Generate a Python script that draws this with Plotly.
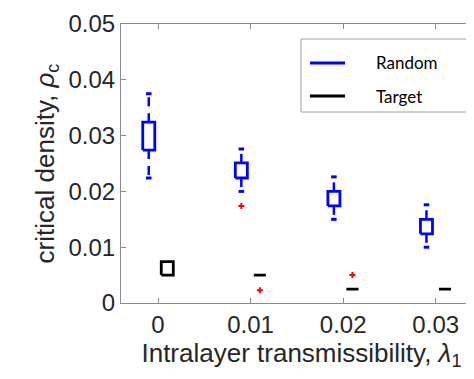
import plotly.graph_objects as go

# ---- data ----
groups = [0.0, 0.01, 0.02, 0.03]
tick_labels = ["0", "0.01", "0.02", "0.03"]

random_upper = [0.0375, 0.0276, 0.0226, 0.0176]
random_q3 = [0.0324, 0.0251, 0.0200, 0.0150]
random_q1 = [0.0274, 0.0224, 0.0174, 0.0124]
random_lower = [0.0224, 0.0200, 0.0150, 0.0100]
random_out_x = [0.01]
random_out_y = [0.0174]

target_upper = [0.0074, 0.0050, 0.0025, 0.0025]
target_q3 = [0.0074, 0.0050, 0.0025, 0.0025]
target_q1 = [0.0050, 0.0050, 0.0025, 0.0025]
target_lower = [0.0050, 0.0050, 0.0025, 0.0025]
target_out_x = [0.01, 0.02]
target_out_y = [0.0023, 0.0050]

y_ticks = [0, 0.01, 0.02, 0.03, 0.04, 0.05]
y_tick_labels = ["0", "0.01", "0.02", "0.03", "0.04", "0.05"]

# ---- style ----
BOX_W = 0.0013
CAP_W = 0.0006
OFFSET = 0.001
BLUE = "#0000FF"
BLACK = "#000000"

fig = go.Figure()


def add_group(offset, upper, q3, q1, lower, color, out_x, out_y):
    bx, by, wx, wy, cx, cy = [], [], [], [], [], []
    for g, u, a, b, l in zip(groups, upper, q3, q1, lower):
        x = g + offset
        bx += [x - BOX_W / 2, x + BOX_W / 2, x + BOX_W / 2, x - BOX_W / 2, x - BOX_W / 2, None]
        by += [b, b, a, a, b, None]
        if u > a:
            wx += [x, x, None]
            wy += [a, u, None]
            cx += [x - CAP_W / 2, x + CAP_W / 2, None]
            cy += [u, u, None]
        if l < b:
            wx += [x, x, None]
            wy += [b, l, None]
            cx += [x - CAP_W / 2, x + CAP_W / 2, None]
            cy += [l, l, None]
    fig.add_trace(go.Scatter(x=wx, y=wy, mode="lines", showlegend=False,
                             line=dict(color=color, width=2.5, dash="9px,7px"),
                             hoverinfo="skip"))
    fig.add_trace(go.Scatter(x=cx, y=cy, mode="lines", showlegend=False,
                             line=dict(color=color, width=3), hoverinfo="skip"))
    fig.add_trace(go.Scatter(x=bx, y=by, mode="lines", showlegend=False,
                             line=dict(color=color, width=2.8), hoverinfo="skip"))
    fig.add_trace(go.Scatter(x=[v + offset for v in out_x], y=out_y, mode="markers",
                             showlegend=False,
                             marker=dict(symbol="cross", size=5, color="#FF0000",
                                         line=dict(width=0)),
                             hoverinfo="skip"))


add_group(-OFFSET, random_upper, random_q3, random_q1, random_lower, BLUE,
          random_out_x, random_out_y)
add_group(OFFSET, target_upper, target_q3, target_q1, target_lower, BLACK,
          target_out_x, target_out_y)

AX = "#8c8c8c"
TXT = "#262626"
FONT = "Liberation Sans, Arial, sans-serif"

fig.update_layout(
    width=474, height=379,
    margin=dict(l=113, r=0, t=16, b=84),
    paper_bgcolor="white", plot_bgcolor="white",
    showlegend=False,
    font=dict(family=FONT, size=24, color=TXT),
    xaxis=dict(range=[-0.004, 0.035], tickvals=groups, ticktext=tick_labels,
               showgrid=False, zeroline=False, showline=True, linecolor=AX,
               linewidth=1, mirror="ticks", ticks="inside", ticklen=5, tickcolor=AX,
               tickfont=dict(size=24, color=TXT),
               title=dict(text="Intralayer transmissibility, <i>λ</i><sub>1</sub>",
                          font=dict(size=26, color=TXT), standoff=4)),
    yaxis=dict(range=[0, 0.05], tickvals=y_ticks, ticktext=y_tick_labels,
               showgrid=False, zeroline=False, showline=True, linecolor=AX,
               linewidth=1, mirror="ticks", ticks="inside", ticklen=5, tickcolor=AX,
               tickfont=dict(size=24, color=TXT),
               title=dict(text="critical density, <i>ρ</i><sub>c</sub>",
                          font=dict(size=26, color=TXT), standoff=6)),
)

# legend drawn manually (box, line samples, text)
def px_x(p):
    return (p - 113) / 361.0


def px_y(p):
    return (295 - p) / 279.0


fig.add_shape(type="rect", xref="paper", yref="paper",
              x0=px_x(293), x1=px_x(459), y0=px_y(104), y1=px_y(31),
              line=dict(color="#a0a0a0", width=1), fillcolor="white", layer="above")
for name, color, yy in [("Random", BLUE, 55), ("Target", BLACK, 88)]:
    fig.add_shape(type="line", xref="paper", yref="paper",
                  x0=px_x(302), x1=px_x(337), y0=px_y(yy), y1=px_y(yy),
                  line=dict(color=color, width=3), layer="above")
    fig.add_annotation(xref="paper", yref="paper", x=px_x(366), y=px_y(yy),
                       text=name, showarrow=False, xanchor="left", yanchor="middle",
                       font=dict(family="Lato, Open Sans, sans-serif", size=17,
                                 color=BLACK))

fig.write_html("out.html")
